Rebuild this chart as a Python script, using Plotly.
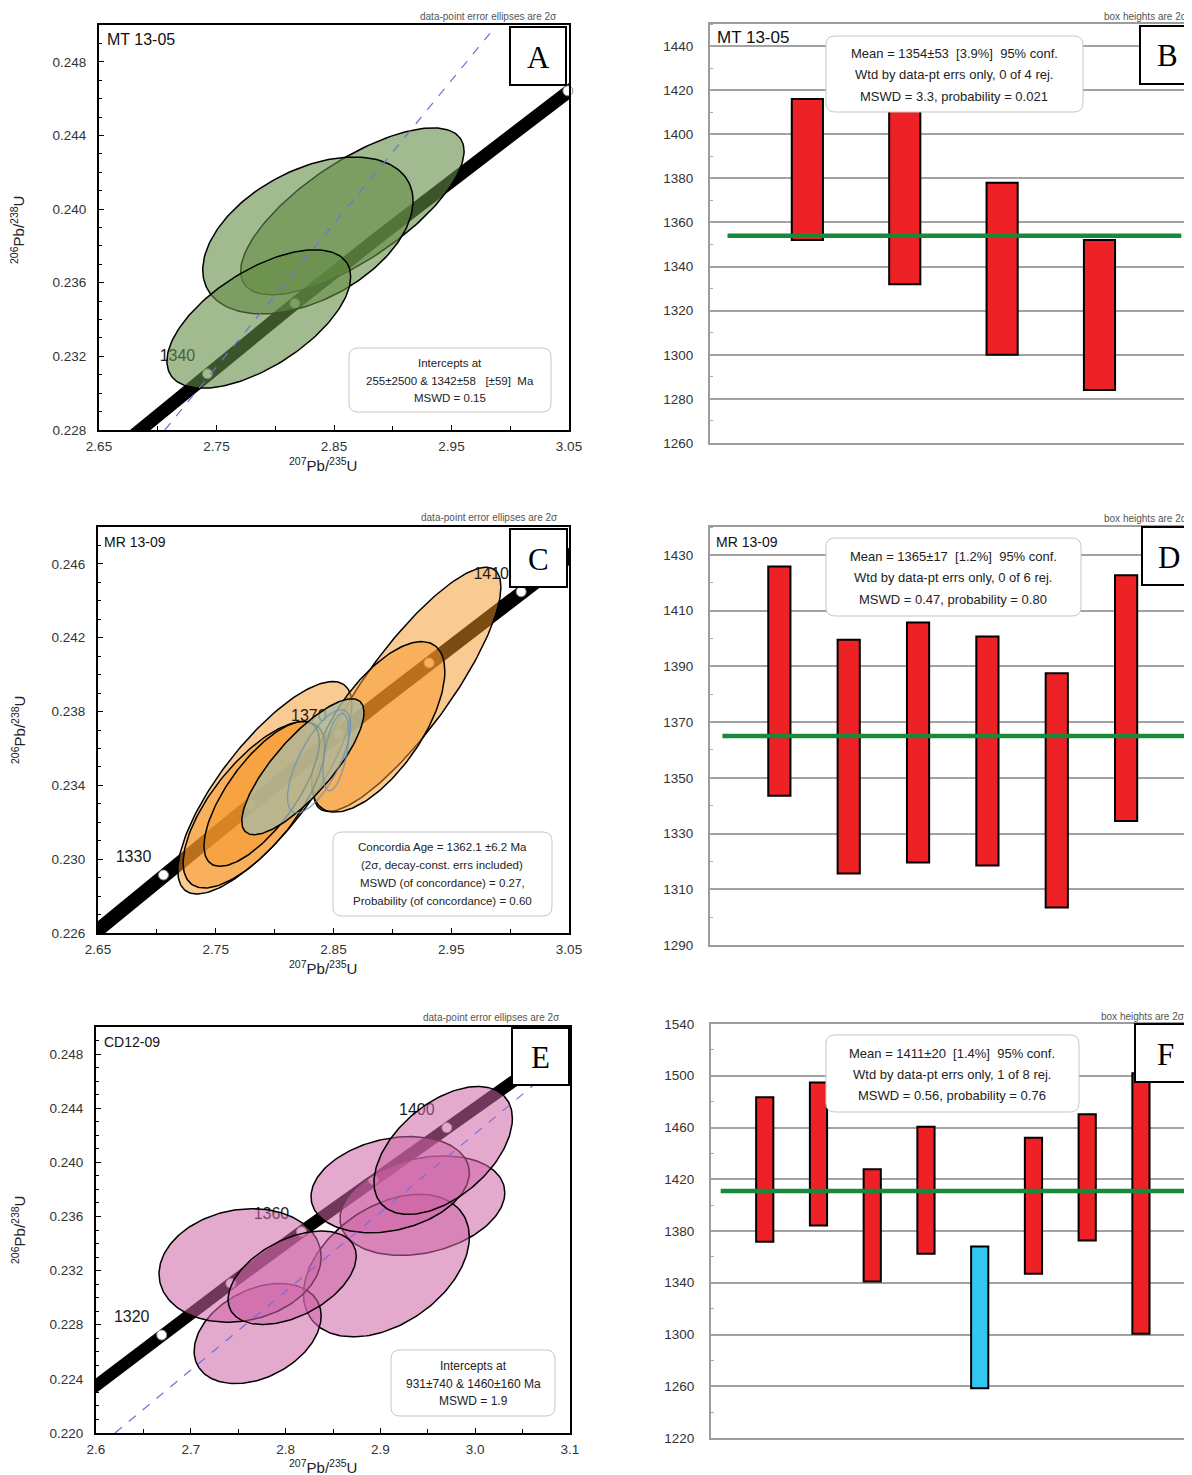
import numpy as np
import plotly.graph_objects as go

# The page places the figure 8 px from the top-left corner of the window,
# so the figure is smaller than the window and all pixel positions below
# are window positions shifted by that offset.
WIN_W, WIN_H = 1192, 1475
OFF = 8
W, H = WIN_W - OFF, WIN_H - OFF
SANS = "Liberation Sans, Arial, Helvetica, sans-serif"
SERIF = "Liberation Serif, Times New Roman, serif"

# U decay constants (per year) used for the concordia curve
LAMBDA_238 = 1.55125e-10
LAMBDA_235 = 9.8485e-10

# ---------------- Panel A : MT 13-05 concordia ----------------
A_ell_cx = [2.8656, 2.8278, 2.7860]
A_ell_cy = [0.23988, 0.23857, 0.23403]
A_ell_dx = [0.0951, 0.0895, 0.0782]
A_ell_dy = [0.00453, 0.00426, 0.00376]
A_ell_rho = [0.72, 0.44, 0.61]
A_curve_ages = [1300, 1320, 1340, 1360, 1380, 1400, 1420, 1440]
A_marker_ages = [1340, 1360, 1420]
A_label_ages = [1340]
A_disc_x = [2.706, 2.986]
A_disc_y = [0.2280, 0.2498]
A_xrange = [2.65, 3.05]
A_yrange = [0.228, 0.250]
A_box_lines = ["Intercepts at",
               "255±2500 & 1342±58\u00a0\u00a0\u00a0[±59]\u00a0\u00a0Ma",
               "MSWD = 0.15"]

# ---------------- Panel C : MR 13-09 concordia ----------------
C_ell_cx = [2.9127, 2.7917, 2.8880, 2.7825, 2.7890]
C_ell_cy = [0.23920, 0.23387, 0.23717, 0.23295, 0.23354]
C_ell_dx = [0.0795, 0.0739, 0.05655, 0.0602, 0.0490]
C_ell_dy = [0.006615, 0.005758, 0.00462, 0.00451, 0.003926]
C_ell_rho = [0.84, 0.78, 0.65, 0.70, 0.72]
C_age_cx = [2.8240]          # concordia-age ellipse
C_age_cy = [0.23501]
C_age_dx = [0.0519]
C_age_dy = [0.003682]
C_age_rho = [0.80]
C_blue_cx = [2.8377, 2.8520]
C_blue_cy = [0.23530, 0.23580]
C_blue_dx = [0.0268, 0.0110]
C_blue_dy = [0.00280, 0.00210]
C_blue_rho = [0.70, 0.50]
C_curve_ages = [1300, 1320, 1340, 1360, 1380, 1400, 1420, 1440]
C_marker_ages = [1330, 1350, 1370, 1390, 1410]
C_label_ages = [1330, 1370, 1410]
C_xrange = [2.65, 3.05]
C_yrange = [0.226, 0.248]
C_box_lines = ["Concordia Age = 1362.1 ±6.2 Ma",
               "(2σ, decay-const. errs included)",
               "MSWD (of concordance) = 0.27,",
               "Probability (of concordance) = 0.60"]

# ---------------- Panel E : CD12-09 concordia ----------------
E_ell_cx = [2.9443, 2.9063, 2.7705, 2.7520, 2.8069, 2.9103, 2.9662]
E_ell_cy = [0.23680, 0.23237, 0.22735, 0.23238, 0.23147, 0.23835, 0.24088]
E_ell_dx = [0.0869, 0.0875, 0.0670, 0.0855, 0.0676, 0.0835, 0.0730]
E_ell_dy = [0.003676, 0.005267, 0.00370, 0.004194, 0.003454, 0.003552, 0.004724]
E_ell_rho = [0.26, 0.40, 0.35, 0.15, 0.46, 0.25, 0.50]
E_curve_ages = [1280, 1300, 1320, 1340, 1360, 1380, 1400, 1420, 1440]
E_marker_ages = [1320, 1340, 1360, 1380, 1400, 1420]
E_label_ages = [1320, 1360, 1400]
E_disc_x = [2.620, 3.070]
E_disc_y = [0.2200, 0.2462]
E_xrange = [2.6, 3.1]
E_yrange = [0.220, 0.250]
E_box_lines = ["Intercepts at", "931±740 & 1460±160 Ma", "MSWD = 1.9"]

# ---------------- Weighted-mean panels ----------------
B_low = [1352, 1332, 1300, 1284]
B_high = [1416, 1416, 1378, 1352]
B_mean = 1354
B_yrange = [1260, 1450]
B_lines = ["Mean = 1354±53\u00a0\u00a0[3.9%]\u00a0\u00a095% conf.",
           "Wtd by data-pt errs only, 0 of 4 rej.",
           "MSWD = 3.3, probability = 0.021"]

D_low = [1343.6, 1315.7, 1319.6, 1318.5, 1303.5, 1334.5]
D_high = [1425.8, 1399.5, 1405.7, 1400.7, 1387.5, 1422.7]
D_mean = 1365
D_yrange = [1290, 1440]
D_lines = ["Mean = 1365±17\u00a0\u00a0[1.2%]\u00a0\u00a095% conf.",
           "Wtd by data-pt errs only, 0 of 6 rej.",
           "MSWD = 0.47, probability = 0.80"]

F_low = [1371.6, 1384.3, 1341.0, 1362.4, 1258.4, 1346.9, 1372.7, 1300.6]
F_high = [1483.4, 1494.7, 1427.8, 1460.5, 1368.0, 1452.0, 1470.3, 1502.0]
F_rejected = [False, False, False, False, True, False, False, False]
F_mean = 1411
F_yrange = [1220, 1540]
F_lines = ["Mean = 1411±20\u00a0\u00a0[1.4%]\u00a0\u00a095% conf.",
           "Wtd by data-pt errs only, 1 of 8 rej.",
           "MSWD = 0.56, probability = 0.76"]

# ---------------- helpers ----------------
def px(x):
    return (x - OFF) / W


def py(y):
    return 1 - (y - OFF) / H


def concordia(ages):
    t = np.asarray(ages, dtype=float) * 1e6
    return np.exp(LAMBDA_235 * t) - 1, np.exp(LAMBDA_238 * t) - 1


def ellipse(cx, cy, dx, dy, rho, n=181):
    t = np.linspace(0, 2 * np.pi, n)
    x = cx + dx * np.cos(t)
    y = cy + dy * (rho * np.cos(t) + np.sqrt(1 - rho ** 2) * np.sin(t))
    return x, y


# window-pixel boxes of the six plot areas: x0, x1, y0(top), y1(bottom)
BOX = {
    "A": (99, 569, 25, 430),
    "B": (710, 1192, 24, 443),
    "C": (98, 569, 527, 933),
    "D": (710, 1192, 527, 945),
    "E": (96, 570, 1027, 1433),
    "F": (711, 1192, 1024, 1438),
}
AX = {"A": "", "B": "2", "C": "3", "D": "4", "E": "5", "F": "6"}

fig = go.Figure()
layout_axes = {}
annotations = []
shapes = []


def ann(x, y, text, size, color="#222", family=SANS, xanchor="center", angle=0):
    annotations.append(dict(x=px(x), y=py(y), xref="paper", yref="paper", text=text,
                            showarrow=False, xanchor=xanchor, yanchor="middle",
                            textangle=angle, font=dict(family=family, size=size, color=color)))


def rounded_box(x0, y0, x1, y1, r=9):
    def P(x, y):
        return f"{px(x):.6f},{py(y):.6f}"
    path = ("M" + P(x0 + r, y0) + " L" + P(x1 - r, y0) + " Q" + P(x1, y0) + " " + P(x1, y0 + r) +
            " L" + P(x1, y1 - r) + " Q" + P(x1, y1) + " " + P(x1 - r, y1) +
            " L" + P(x0 + r, y1) + " Q" + P(x0, y1) + " " + P(x0, y1 - r) +
            " L" + P(x0, y0 + r) + " Q" + P(x0, y0) + " " + P(x0 + r, y0) + " Z")
    shapes.append(dict(type="path", path=path, xref="paper", yref="paper", layer="above",
                       fillcolor="white", line=dict(color="#c6c6c6", width=1)))


def letter_box(x0, y0, x1, y1, letter):
    shapes.append(dict(type="rect", xref="paper", yref="paper", layer="above",
                       x0=px(x0), x1=px(x1), y0=py(y1), y1=py(y0),
                       fillcolor="white", line=dict(color="black", width=2)))
    ann((x0 + x1) / 2, (y0 + y1) / 2 + 1, letter, 31, color="black", family=SERIF)


def dom(key):
    x0, x1, y0, y1 = BOX[key]
    return [px(x0), min(px(x1), 1.0)], [py(y1), py(y0)]


TICKFONT = dict(family=SANS, size=13.5, color="#333")


def concordia_axes(key, xr, yr, xtick0, xfmt, ytick0):
    s = AX[key]
    xd, yd = dom(key)
    layout_axes["xaxis" + s] = dict(
        domain=xd, range=xr, anchor="y" + s, showline=True, linecolor="black", linewidth=2,
        mirror=True, ticks="inside", ticklen=5, tickcolor="black", tick0=xtick0, dtick=0.1,
        tickformat=xfmt, minor=dict(tick0=xtick0, dtick=0.05, ticks="inside", ticklen=4, tickcolor="black"),
        showgrid=False, zeroline=False, tickfont=TICKFONT, ticklabelstandoff=3,
        automargin=False, fixedrange=True)
    layout_axes["yaxis" + s] = dict(
        domain=yd, range=yr, anchor="x" + s, showline=True, linecolor="black", linewidth=2,
        mirror=True, ticks="inside", ticklen=5, tickcolor="black", tick0=ytick0, dtick=0.004,
        tickformat=".3f", minor=dict(tick0=ytick0, dtick=0.001, ticks="inside", ticklen=3, tickcolor="black"),
        showgrid=False, zeroline=False, tickfont=TICKFONT, ticklabelstandoff=8,
        automargin=False, fixedrange=True)


def concordia_panel(key, xr, yr, curve_ages, marker_ages, label_ages, ells, fill, band_w,
                    label_after=0, extra=None, disc=None):
    s = AX[key]
    xa, ya = "x" + s, "y" + s
    x0, x1, y0, y1 = BOX[key]
    cx, cy = concordia(curve_ages)
    fig.add_trace(go.Scatter(x=cx, y=cy, mode="lines", line=dict(color="black", width=band_w),
                             xaxis=xa, yaxis=ya, hoverinfo="skip"))
    mx, my = concordia(marker_ages)
    fig.add_trace(go.Scatter(x=mx, y=my, mode="markers", cliponaxis=False,
                             marker=dict(symbol="circle", size=10, color="white",
                                         line=dict(color="#888", width=1)),
                             xaxis=xa, yaxis=ya, hoverinfo="skip"))
    lx, ly = concordia(label_ages)
    ux = (xr[1] - xr[0]) / (x1 - x0)
    uy = (yr[1] - yr[0]) / (y1 - y0)
    label_trace = go.Scatter(x=lx - 30 * ux, y=ly + 17 * uy, mode="text", cliponaxis=False,
                             text=[str(a) for a in label_ages],
                             textfont=dict(family=SANS, size=16, color="#1a1a1a"),
                             xaxis=xa, yaxis=ya, hoverinfo="skip")
    ecx, ecy, edx, edy, erho = ells
    for i in range(len(ecx)):
        if i == label_after:
            fig.add_trace(label_trace)
        ex, ey = ellipse(ecx[i], ecy[i], edx[i], edy[i], erho[i])
        fig.add_trace(go.Scatter(x=ex, y=ey, mode="lines", fill="toself", fillcolor=fill,
                                 line=dict(color="black", width=1.5),
                                 xaxis=xa, yaxis=ya, hoverinfo="skip"))
    if label_after >= len(ecx):
        fig.add_trace(label_trace)
    if extra:
        for (ecx2, ecy2, edx2, edy2, erho2, f2, lc, lw) in extra:
            for i in range(len(ecx2)):
                ex, ey = ellipse(ecx2[i], ecy2[i], edx2[i], edy2[i], erho2[i])
                fig.add_trace(go.Scatter(x=ex, y=ey, mode="lines",
                                         fill="toself" if f2 else None, fillcolor=f2,
                                         line=dict(color=lc, width=lw),
                                         xaxis=xa, yaxis=ya, hoverinfo="skip"))
    if disc:
        fig.add_trace(go.Scatter(x=disc[0], y=disc[1], mode="lines",
                                 line=dict(color="#6f6fe0", width=1.2, dash="dash"),
                                 xaxis=xa, yaxis=ya, hoverinfo="skip"))


def mean_axes(key, yr, dtick, minor_dtick, n):
    s = AX[key]
    xd, yd = dom(key)
    layout_axes["xaxis" + s] = dict(
        domain=xd, range=[0, n + 0.95], anchor="y" + s, showline=True, linecolor="#9c9c9c",
        linewidth=2, mirror=True, ticks="", showticklabels=False, showgrid=False,
        zeroline=False, automargin=False, fixedrange=True)
    layout_axes["yaxis" + s] = dict(
        domain=yd, range=yr, anchor="x" + s, showline=True, linecolor="#9c9c9c", linewidth=2,
        mirror=True, ticks="", tick0=yr[0], dtick=dtick, showgrid=True, gridcolor="#a2a2a2",
        gridwidth=2, zeroline=False,
        minor=dict(tick0=yr[0], dtick=minor_dtick, ticks="inside", ticklen=3, tickcolor="#aaa", showgrid=False),
        tickfont=TICKFONT, ticklabelstandoff=12, automargin=False, fixedrange=True)


def mean_panel(key, lows, highs, mean, colors):
    s = AX[key]
    n = len(lows)
    fig.add_trace(go.Scatter(x=[0.18, n + 0.84], y=[mean, mean], mode="lines",
                             line=dict(color="#17893a", width=4.5),
                             xaxis="x" + s, yaxis="y" + s, hoverinfo="skip"))
    lo = np.array(lows, dtype=float)
    hi = np.array(highs, dtype=float)
    fig.add_trace(go.Bar(x=list(range(1, n + 1)), y=hi - lo, base=lo, width=0.32,
                         marker=dict(color=colors, line=dict(color="black", width=2)),
                         xaxis="x" + s, yaxis="y" + s, hoverinfo="skip"))


# ---------------- build panels ----------------
GREEN = "rgba(100,140,70,0.6)"
ORANGE = "rgba(245,150,40,0.5)"
PINK = "rgba(205,100,165,0.55)"

concordia_axes("A", A_xrange, A_yrange, 2.65, ".2f", 0.228)
concordia_panel("A", A_xrange, A_yrange, A_curve_ages, A_marker_ages, A_label_ages,
                (A_ell_cx, A_ell_cy, A_ell_dx, A_ell_dy, A_ell_rho), GREEN, 13,
                label_after=0, disc=(A_disc_x, A_disc_y))

concordia_axes("C", C_xrange, C_yrange, 2.65, ".2f", 0.226)
concordia_panel("C", C_xrange, C_yrange, C_curve_ages, C_marker_ages, C_label_ages,
                (C_ell_cx, C_ell_cy, C_ell_dx, C_ell_dy, C_ell_rho), ORANGE, 14,
                label_after=3,
                extra=[(C_age_cx, C_age_cy, C_age_dx, C_age_dy, C_age_rho,
                        "rgba(170,185,160,0.8)", "black", 1.5),
                       (C_blue_cx, C_blue_cy, C_blue_dx, C_blue_dy, C_blue_rho,
                        None, "rgba(100,145,185,0.75)", 1.4)])

concordia_axes("E", E_xrange, E_yrange, 2.6, ".1f", 0.220)
concordia_panel("E", E_xrange, E_yrange, E_curve_ages, E_marker_ages, E_label_ages,
                (E_ell_cx, E_ell_cy, E_ell_dx, E_ell_dy, E_ell_rho), PINK, 12,
                label_after=0, disc=(E_disc_x, E_disc_y))

RED, BLUE = "#ee2226", "#33c6f0"
mean_axes("B", B_yrange, 20, 10, len(B_low))
mean_panel("B", B_low, B_high, B_mean, [RED] * len(B_low))
mean_axes("D", D_yrange, 20, 10, len(D_low))
mean_panel("D", D_low, D_high, D_mean, [RED] * len(D_low))
mean_axes("F", F_yrange, 40, 20, len(F_low))
mean_panel("F", F_low, F_high, F_mean, [BLUE if r else RED for r in F_rejected])

# ---------------- texts and boxes ----------------
SUBX = "<sup>207</sup>Pb/<sup>235</sup>U"
SUBY = "<sup>206</sup>Pb/<sup>238</sup>U"
for (xt, yt, yy) in [(323, 464, 230), (323, 967, 730), (323, 1466, 1230)]:
    ann(xt, yt, SUBX, 15, color="#222")
    ann(18, yy, SUBY, 15, color="#222", angle=-90)

ann(559, 17, "data-point error ellipses are 2σ", 10, color="#555", xanchor="right")
ann(560, 518, "data-point error ellipses are 2σ", 10, color="#555", xanchor="right")
ann(562, 1018, "data-point error ellipses are 2σ", 10, color="#555", xanchor="right")
ann(1190, 16, "box heights are 2σ", 10, color="#555", xanchor="right")
ann(1190, 519, "box heights are 2σ", 10, color="#555", xanchor="right")
ann(1187, 1016, "box heights are 2σ", 10, color="#555", xanchor="right")

ann(105, 40, "MT 13-05", 16, color="#111", xanchor="left")
ann(715, 37, "MT 13-05", 17, color="#111", xanchor="left")
ann(102, 542, "MR 13-09", 14, color="#111", xanchor="left")
ann(714, 542, "MR 13-09", 14, color="#111", xanchor="left")
ann(102, 1042, "CD12-09", 14, color="#111", xanchor="left")

# intercept / age boxes on concordia panels
rounded_box(349, 348, 551, 412)
for i, t in enumerate(A_box_lines):
    ann(450, 363 + 17.5 * i, t, 11.5)
rounded_box(333, 832, 552, 916)
for i, t in enumerate(C_box_lines):
    ann(442, 847 + 18 * i, t, 11.5)
rounded_box(391, 1350, 555, 1416)
for i, t in enumerate(E_box_lines):
    ann(473, 1366 + 17.5 * i, t, 12)

# weighted-mean boxes
rounded_box(826, 36, 1083, 112)
for i, t in enumerate(B_lines):
    ann(954, 53 + 21.5 * i, t, 13)
rounded_box(826, 538, 1081, 616)
for i, t in enumerate(D_lines):
    ann(953, 556 + 21.5 * i, t, 13)
rounded_box(826, 1035, 1079, 1112)
for i, t in enumerate(F_lines):
    ann(952, 1053 + 21 * i, t, 13)

# panel letters
letter_box(510, 27, 566, 85, "A")
letter_box(1140, 26, 1195, 84, "B")
letter_box(510, 529, 567, 587, "C")
letter_box(1142, 527, 1195, 585, "D")
letter_box(512, 1028, 569, 1085, "E")
letter_box(1135, 1024, 1195, 1082, "F")

fig.update_layout(
    width=W, height=H, margin=dict(l=0, r=0, t=0, b=0),
    paper_bgcolor="white", plot_bgcolor="white", showlegend=False,
    annotations=annotations, shapes=shapes, **layout_axes)

fig.write_html("out.html")
